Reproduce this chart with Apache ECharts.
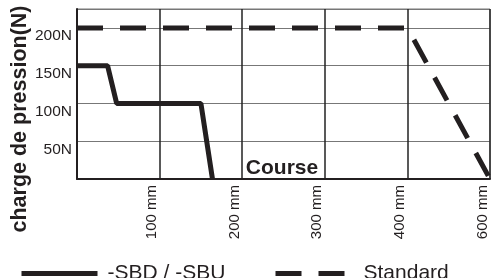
<!DOCTYPE html>
<html>
<head>
<meta charset="utf-8">
<script src="https://cdn.jsdelivr.net/npm/echarts@6/dist/echarts.min.js"></script>
<style>
html,body{margin:0;padding:0;background:#fff;}
#c{width:491px;height:278px;}
</style>
</head>
<body>
<div id="c"></div>
<script>
// Data (course in mm, force in N)
var sbdCourse = [0, 37, 48, 150, 164];
var sbdForce  = [150, 150, 100, 100, 0];
var stdCourse = [0, 400, 600];
var stdForce  = [200, 200, 0];
// Axis tick labels (non-linear course axis: last step is 400 -> 600 mm)
var xTickMm     = [0, 100, 200, 300, 400, 600];
var xTickLabels = ['', '100 mm', '200 mm', '300 mm', '400 mm', '600 mm'];
var yTickLabels = ['', '50N', '100N', '150N', '200N'];
var seriesNames = ['-SBD / -SBU', 'Standard'];

// piecewise-linear course scale: mm -> axis position (tick index)
function toAxis(mm) {
  for (var i = 1; i < xTickMm.length; i++) {
    if (mm <= xTickMm[i]) {
      return (i - 1) + (mm - xTickMm[i - 1]) / (xTickMm[i] - xTickMm[i - 1]);
    }
  }
  return xTickMm.length - 1;
}
function pairs(xs, ys) {
  return xs.map(function (x, i) { return [toAxis(x), ys[i]]; });
}

var ink = '#231f20';
var font = 'Liberation Sans, Arial, sans-serif';
var legendCommon = {
  top: 258, itemHeight: 10,
  itemStyle: { opacity: 0 },
  lineStyle: { width: 5, color: ink }
};
var chart = echarts.init(document.getElementById('c'));
chart.setOption({
  animation: false,
  backgroundColor: '#fff',
  grid: { left: 77, right: 1, top: 9, bottom: 99, show: true, borderColor: '#777', borderWidth: 1 },
  xAxis: {
    type: 'value', min: 0, max: xTickMm.length - 1, interval: 1,
    axisLine: { show: true, lineStyle: { color: ink, width: 2 } },
    axisTick: { show: false },
    splitLine: { show: true, lineStyle: { color: '#222', width: 1.5 } },
    axisLabel: {
      rotate: 90, margin: 6, fontSize: 15, fontFamily: font, color: ink,
      verticalAlign: 'bottom', lineHeight: 15,
      formatter: function (v) { return xTickLabels[Math.round(v)] || ''; }
    }
  },
  yAxis: {
    type: 'value', min: 0, max: 225, interval: 50,
    axisLine: { show: true, lineStyle: { color: ink, width: 2 } },
    axisTick: { show: false },
    splitLine: { show: true, lineStyle: { color: '#777', width: 1 } },
    axisLabel: {
      margin: 5, fontSize: 15.5, fontFamily: font, color: ink, verticalAlign: 'top',
      formatter: function (v) { return yTickLabels[Math.round(v / 50)] || ''; }
    }
  },
  legend: [
    Object.assign({}, legendCommon, {
      data: [seriesNames[0]], left: 14, itemWidth: 76,
      textStyle: { fontSize: 21, fontFamily: font, color: ink, padding: [0, 0, 0, 5] }
    }),
    Object.assign({}, legendCommon, {
      data: [seriesNames[1]], left: 268, itemWidth: 69,
      lineStyle: { width: 5, color: ink, type: [26, 17] },
      textStyle: { fontSize: 21, fontFamily: font, color: ink, padding: [0, 0, 0, 14] }
    })
  ],
  graphic: [
    {
      type: 'text', x: 20, y: 119, rotation: Math.PI / 2,
      style: { text: 'charge de pression(N)', font: 'bold 21.5px ' + font, fill: ink, align: 'center', verticalAlign: 'middle' }
    },
    {
      type: 'text', x: 282, y: 168,
      style: { text: 'Course', font: 'bold 21px ' + font, fill: ink, align: 'center', verticalAlign: 'middle' }
    }
  ],
  series: [
    {
      name: seriesNames[0], type: 'line', symbol: 'none', data: pairs(sbdCourse, sbdForce),
      lineStyle: { color: ink, width: 5 }, itemStyle: { color: ink }
    },
    {
      name: seriesNames[1], type: 'line', symbol: 'none', data: pairs(stdCourse, stdForce),
      lineStyle: { color: ink, width: 5, type: [26, 17], cap: 'butt' }, itemStyle: { color: ink }
    }
  ]
});
</script>
</body>
</html>
